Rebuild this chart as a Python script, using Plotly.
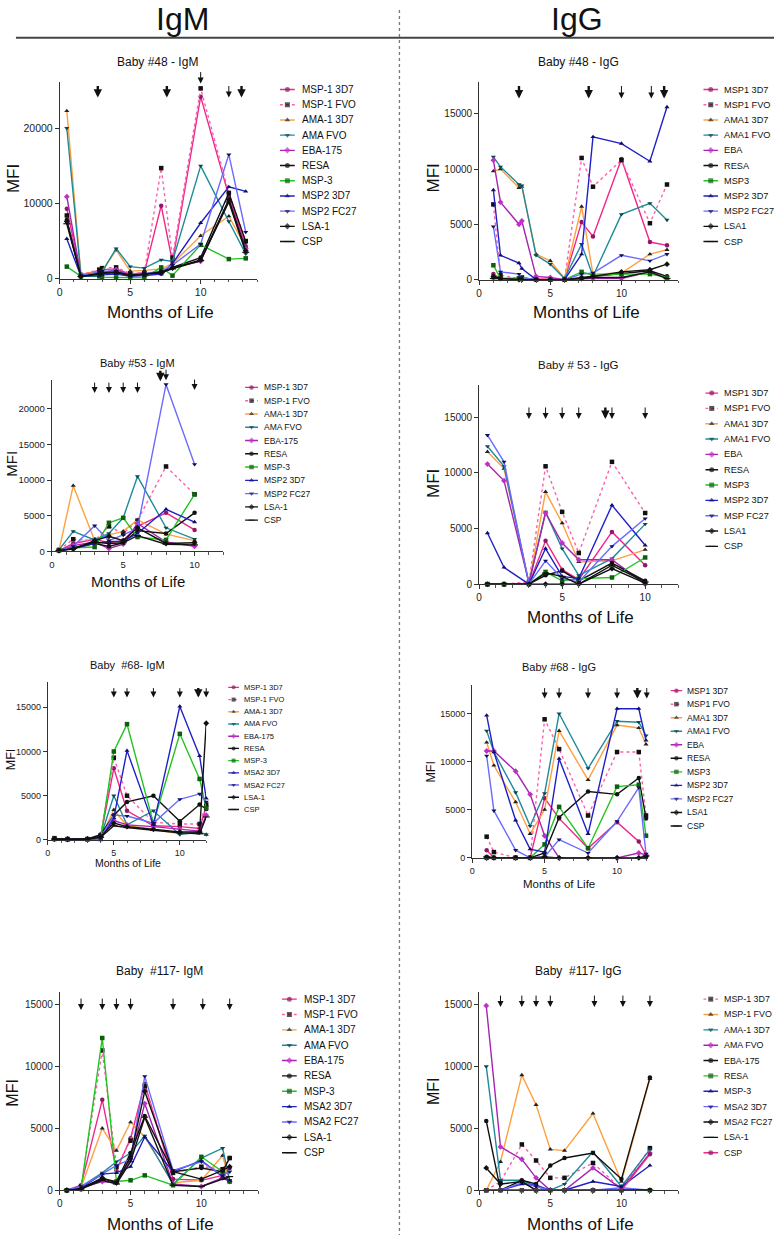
import plotly.graph_objects as go

W, H = 774, 1241
FONT = "Liberation Sans, Arial, Helvetica, sans-serif"

# ---------------- DATA ----------------
NAMES_A = ["MSP-1 3D7", "MSP-1 FVO", "AMA-1 3D7", "AMA FVO", "EBA-175", "RESA",
           "MSP-3", "MSP2 3D7", "MSP2 FC27", "LSA-1", "CSP"]
NAMES_B = ["MSP1 3D7", "MSP1 FVO", "AMA1 3D7", "AMA1 FVO", "EBA", "RESA",
           "MSP3", "MSP2 3D7", "MSP2 FC27", "LSA1", "CSP"]
NAMES_B2 = ["MSP1 3D7", "MSP1 FVO", "AMA1 3D7", "AMA1 FVO", "EBA", "RESA",
            "MSP3", "MSP2 3D7", "MSP FC27", "LSA1", "CSP"]
NAMES_C = ["MSP-1 3D7", "MSP-1 FVO", "AMA-1 3D7", "AMA FVO", "EBA-175", "RESA",
           "MSP-3", "MSA2 3D7", "MSA2 FC27", "LSA-1", "CSP"]

# Baby #48 IgM
B48M_MONTHS = [0.5, 1.5, 2.8, 3, 4, 5, 6, 7.2, 8, 10, 12, 13.2]
B48M_VALUES = [
    [9300, 500, 1100, 1200, 1300, 600, 800, 9700, 2200, 24200, 11000, 4300],
    [8400, 500, 1200, 1400, 1500, 700, 800, 14700, 2800, 25300, 11400, 5000],
    [22300, 600, 900, 1000, 3800, 1000, 1100, 1300, 2000, 5700, 8300, 4200],
    [20000, 500, 800, 900, 4000, 1600, 1400, 2500, 2300, 15000, 7600, 3300],
    [10900, 400, 700, 800, 1200, 400, 600, 700, 1500, 2300, 10500, 4000],
    [7800, 300, 600, 700, 800, 400, 500, 700, 1500, 2800, 11400, 4900],
    [1600, 300, 300, 200, 150, 100, 100, 1500, 400, 4500, 2600, 2700],
    [5300, 300, 400, 500, 600, 300, 400, 600, 2000, 7400, 12200, 11600],
    [7500, 400, 900, 1000, 1000, 500, 700, 1000, 1800, 4600, 16500, 6200],
    [7600, 300, 700, 800, 900, 500, 600, 900, 1400, 2500, 10500, 3700],
    [7300, 300, 600, 700, 800, 400, 600, 800, 1300, 2400, 10200, 3500],
]
B48M_ARROWS = [2.7, 7.6, 10, 12, 12.9]
B48M_THICK = [1, 1, 0, 0, 1]

# Baby #48 IgG
B48G_MONTHS = [1, 1.5, 2.8, 3, 4, 5, 6, 7.2, 8, 10, 12, 13.2]
B48G_VALUES = [
    [500, 100, 100, 100, 50, 50, 0, 5200, 3900, 10900, 3400, 3100],
    [6800, 400, 100, 200, 50, 0, 0, 11000, 8400, 10800, 5100, 8600],
    [9800, 10000, 8300, 8400, 2300, 1700, 100, 6600, 500, 600, 2300, 2700],
    [11100, 10200, 8600, 8500, 2200, 1400, 100, 3200, 300, 5900, 6900, 5400],
    [10800, 7000, 5000, 5300, 300, 200, 0, 100, 100, 100, 700, 100],
    [200, 100, 50, 100, 0, 0, 0, 200, 300, 500, 800, 300],
    [1300, 100, 100, 100, 0, 0, 0, 700, 400, 500, 500, 200],
    [8100, 2200, 1500, 1000, 0, 0, 0, 2300, 12900, 12300, 10700, 15600],
    [4800, 700, 500, 200, 0, 0, 0, 500, 600, 2200, 1700, 2300],
    [300, 100, 0, 0, 0, 0, 0, 100, 300, 700, 900, 1400],
    [100, 100, 0, 0, 0, 0, 0, 100, 200, 200, 700, 100],
]
B48G_ARROWS = [2.8, 7.7, 10, 12.1, 13.0]
B48G_THICK = [1, 1, 0, 0, 1]

# Baby #53 IgM
B53M_MONTHS = [0.5, 1.5, 3, 4, 5, 6, 8, 10]
B53M_VALUES = [
    [100, 1100, 1700, 1200, 1500, 3500, 5400, 3000],
    [200, 1700, 1500, 3500, 2500, 4300, 11900, 8000],
    [100, 9200, 1500, 2300, 2800, 4400, 2400, 1500],
    [200, 2800, 1600, 2500, 4700, 10500, 3300, 1700],
    [100, 800, 1300, 400, 1000, 3900, 1300, 700],
    [200, 500, 1100, 700, 1200, 2900, 2500, 5400],
    [100, 500, 600, 4000, 4700, 2000, 1600, 8000],
    [100, 400, 1100, 1400, 1400, 2500, 5900, 4100],
    [100, 700, 3600, 1500, 2300, 3200, 23400, 12200],
    [100, 300, 1500, 2100, 1500, 3300, 1100, 1200],
    [100, 400, 1300, 1100, 1200, 2200, 1000, 900],
]
B53M_ARROWS = [3, 4, 5, 6, 7.6, 8, 10]
B53M_THICK = [0, 0, 0, 0, 1, 0, 0]

# Baby #53 IgG
B53G_MONTHS = [0.5, 1.5, 3, 4, 5, 6, 8, 10]
B53G_VALUES = [
    [0, 0, 0, 3900, 1300, 400, 4700, 1700],
    [0, 0, 200, 10600, 6500, 2800, 11000, 6400],
    [11900, 10400, 100, 8300, 5500, 2000, 2100, 3100],
    [12400, 10600, 100, 6500, 3200, 800, 2300, 5400],
    [10800, 9300, 100, 6400, 3700, 2200, 2200, 0],
    [0, 0, 0, 800, 1200, 300, 1900, 300],
    [0, 0, 0, 1100, 300, 500, 600, 2400],
    [4600, 1500, 0, 3200, 700, 500, 7100, 3500],
    [13400, 11000, 0, 2100, 500, 200, 3400, 5900],
    [0, 0, 0, 0, 0, 0, 1400, 100],
    [0, 0, 0, 1000, 700, 0, 1700, 200],
]
B53G_ARROWS = [3, 4, 5, 6, 7.6, 8, 10]
B53G_THICK = [0, 0, 0, 0, 1, 0, 0]

# Baby #68 IgM
B68M_MONTHS = [0.5, 1.5, 3, 4, 5, 6, 8, 10, 11.5, 12]
B68M_VALUES = [
    [150, 100, 100, 400, 8100, 3300, 1600, 1500, 1300, 3800],
    [200, 100, 100, 500, 9300, 5000, 2000, 1800, 1800, 4000],
    [100, 100, 100, 300, 3400, 1600, 1200, 700, 800, 600],
    [100, 100, 100, 300, 5000, 1700, 3300, 600, 900, 600],
    [100, 50, 100, 400, 2200, 1700, 1500, 1200, 1000, 2800],
    [150, 100, 100, 600, 2800, 4300, 5000, 2100, 4000, 3500],
    [100, 50, 50, 100, 10000, 13100, 1900, 12000, 6900, 3600],
    [100, 50, 50, 200, 2500, 10100, 1700, 15100, 9500, 4700],
    [100, 50, 50, 300, 2800, 2700, 1900, 4600, 5200, 4300],
    [100, 100, 100, 400, 1900, 1500, 1200, 900, 900, 13200],
    [100, 50, 100, 300, 1600, 1400, 1100, 800, 700, 2600],
]
B68M_ARROWS = [5, 6, 8, 10, 11.4, 12]
B68M_THICK = [0, 0, 0, 0, 1, 0]

# Baby #68 IgG
B68G_MONTHS = [1, 1.5, 3, 4, 5, 6, 8, 10, 11.5, 12]
B68G_VALUES = [
    [800, 0, 0, 0, 6200, 4100, 1000, 3700, 1700, 300],
    [2200, 600, 0, 0, 14400, 11300, 4400, 11000, 11000, 4400],
    [12000, 9600, 5800, 2500, 5000, 13200, 8100, 13800, 13500, 11800],
    [13200, 11000, 6800, 3300, 6700, 15000, 9300, 14200, 14100, 12700],
    [11100, 11100, 9000, 6600, 2300, 0, 0, 0, 500, 300],
    [100, 0, 0, 0, 500, 4200, 6900, 6600, 8300, 4100],
    [0, 0, 0, 0, 1400, 5300, 1000, 7400, 7600, 2300],
    [14800, 11000, 3900, 900, 600, 10300, 2500, 15500, 15500, 12200],
    [10600, 4900, 800, 0, 100, 1900, 500, 3800, 7300, 400],
    [0, 0, 0, 0, 100, 0, 0, 0, 0, 100],
    [100, 0, 0, 0, 0, 0, 0, 0, 0, 200],
]
B68G_ARROWS = [5, 6, 8, 10, 11.4, 12.05]
B68G_THICK = [0, 0, 0, 0, 1, 0]

# Baby #117 IgM
B117M_MONTHS = [0.5, 1.5, 3, 4, 5, 6, 8, 10, 11.5, 12]
B117M_VALUES = [
    [0, 400, 7300, 1600, 4200, 8600, 900, 800, 1200, 1800],
    [0, 300, 11300, 1900, 4000, 8400, 1400, 1900, 1700, 2600],
    [0, 200, 5000, 3200, 5500, 4300, 600, 800, 2800, 700],
    [0, 300, 1400, 2300, 3000, 4400, 500, 2600, 3400, 800],
    [0, 200, 700, 600, 2500, 7000, 500, 300, 1000, 700],
    [0, 200, 900, 700, 3000, 6000, 1500, 1800, 1500, 2600],
    [0, 100, 12300, 700, 800, 1200, 400, 2700, 1500, 700],
    [0, 200, 1300, 1400, 1900, 4300, 1500, 2400, 1100, 800],
    [0, 300, 1300, 2000, 2500, 9200, 1600, 2300, 1200, 1500],
    [0, 100, 1000, 600, 2700, 8000, 1500, 900, 1600, 1900],
    [0, 100, 800, 500, 2300, 5900, 400, 300, 900, 1100],
]
B117M_ARROWS = [1.5, 3, 4, 5, 8, 10.1, 12]
B117M_THICK = [0, 0, 0, 0, 0, 0, 0]

# Baby #117 IgG
B117G_MONTHS = [0.5, 1.5, 3, 4, 5, 6, 8, 10, 12]
B117G_VALUES = [
    [0, 700, 3700, 2400, 1000, 1000, 2200, 100, 3400],
    [0, 2300, 9300, 6900, 3300, 3200, 6200, 700, 9000],
    [10000, 800, 800, 300, 0, 500, 3100, 300, 3300],
    [14900, 3500, 2500, 1000, 0, 0, 1800, 100, 3000],
    [5600, 0, 800, 500, 2000, 2600, 3000, 900, 9100],
    [0, 0, 0, 0, 0, 0, 0, 0, 0],
    [0, 0, 500, 400, 0, 0, 700, 300, 2000],
    [0, 0, 600, 300, 0, 0, 0, 200, 0],
    [1800, 500, 700, 0, 0, 0, 0, 0, 0],
    [0, 0, 0, 0, 0, 0, 0, 0, 0],
    [0, 0, 0, 0, 0, 0, 0, 0, 2900],
]
B117G_ARROWS = [1.5, 3, 4, 5, 8.1, 10.1, 12]
B117G_THICK = [0, 0, 0, 0, 0, 0, 0]

# ---------------- STYLES ----------------
# (line colour, dash, marker symbol, marker colour)
STYLES = [
    ("#F0278A", "solid", "circle", "#8B1A6B"),
    ("#FF5FAF", "dot", "square", "#111111"),
    ("#FFA040", "solid", "triangle-up", "#222222"),
    ("#1F8A99", "solid", "triangle-down", "#0F4750"),
    ("#A524B0", "solid", "diamond", "#C030C8"),
    ("#111111", "solid", "circle", "#111111"),
    ("#22C322", "solid", "square", "#0F5F0F"),
    ("#2020C8", "solid", "triangle-up", "#101060"),
    ("#6B6BFF", "solid", "triangle-down", "#101060"),
    ("#111111", "solid", "diamond", "#111111"),
    ("#111111", "solid", "line-ew", "#111111"),
]
STYLES_SHIFT = STYLES[1:] + STYLES[:1]

# ---------------- PANEL LAYOUT (pixels) ----------------
PANELS = [
    dict(title="Baby #48 - IgM", months=B48M_MONTHS, values=B48M_VALUES, names=NAMES_A, styles=STYLES,
         arrows=B48M_ARROWS, thick=B48M_THICK,
         arrow_tip=[98, 98, 84, 98, 98], arrow_len=13,
         dom_x=(57, 255), dom_y=(82, 280), xr=14, yr=26200, ydt=10000, tickf=10.5,
         title_xy=(155, 62), title_f=12,
         ytitle_xy=(10, 179), ytitle_f=17, xtitle_xy=(158, 314), xtitle_f=17,
         leg=(278, 15, 298, 90, 15.27, 10, 5)),
    dict(title="Baby #48 - IgG", months=B48G_MONTHS, values=B48G_VALUES, names=NAMES_B, styles=STYLES,
         arrows=B48G_ARROWS, thick=B48G_THICK,
         arrow_tip=[99] * 5, arrow_len=14,
         dom_x=(478, 678), dom_y=(82, 281), xr=14, yr=17900, ydt=5000, tickf=10,
         title_xy=(578, 62), title_f=12,
         ytitle_xy=(432, 179), ytitle_f=17, xtitle_xy=(586, 314), xtitle_f=17,
         leg=(703, 15, 722, 90, 15.27, 9.2, 5)),
    dict(title="Baby #53 - IgM", months=B53M_MONTHS, values=B53M_VALUES, names=NAMES_A, styles=STYLES,
         arrows=B53M_ARROWS, thick=B53M_THICK,
         arrow_tip=[395, 395, 395, 395, 383, 382, 392], arrow_len=12,
         dom_x=(49, 221), dom_y=(382, 554), xr=12, yr=24000, ydt=5000, tickf=9.5,
         title_xy=(135, 365), title_f=11,
         ytitle_xy=(9, 466), ytitle_f=15, xtitle_xy=(136, 584), xtitle_f=15,
         leg=(243, 13, 260, 389.3, 13.34, 8.5, 4.5)),
    dict(title="Baby # 53 - IgG", months=B53G_MONTHS, values=B53G_VALUES, names=NAMES_B2, styles=STYLES,
         arrows=B53G_ARROWS, thick=B53G_THICK,
         arrow_tip=[421] * 7, arrow_len=13,
         dom_x=(478, 678), dom_y=(387, 587), xr=12, yr=17900, ydt=5000, tickf=10,
         title_xy=(578, 367), title_f=11.5,
         ytitle_xy=(432, 486), ytitle_f=17, xtitle_xy=(580, 620), xtitle_f=17,
         leg=(705, 13, 722, 395, 15.4, 9.2, 5)),
    dict(title="Baby\u00a0 #68- IgM", months=B68M_MONTHS, values=B68M_VALUES, names=NAMES_C, styles=STYLES,
         arrows=B68M_ARROWS, thick=B68M_THICK,
         arrow_tip=[701] * 6, arrow_len=11,
         dom_x=(45, 204), dom_y=(685, 844), xr=12, yr=17900, ydt=5000, tickf=9,
         title_xy=(125, 668), title_f=11,
         ytitle_xy=(8, 763), ytitle_f=12.5, xtitle_xy=(125, 867), xtitle_f=10.5,
         leg=(226, 11, 240, 690.7, 12.27, 7.5, 4)),
    dict(title="Baby #68 - IgG", months=B68G_MONTHS, values=B68G_VALUES, names=NAMES_B, styles=STYLES,
         arrows=B68G_ARROWS, thick=B68G_THICK,
         arrow_tip=[702] * 6, arrow_len=12,
         dom_x=(471, 648), dom_y=(688, 862), xr=12.17, yr=18000, ydt=5000, tickf=9,
         title_xy=(558, 670), title_f=11,
         ytitle_xy=(430, 775), ytitle_f=12.5, xtitle_xy=(558, 888), xtitle_f=11.5,
         leg=(670, 12, 685, 694, 13.6, 8.5, 4.5)),
    dict(title="Baby\u00a0 #117- IgM", months=B117M_MONTHS, values=B117M_VALUES, names=NAMES_C, styles=STYLES,
         arrows=B117M_ARROWS, thick=B117M_THICK,
         arrow_tip=[1015] * 7, arrow_len=13,
         dom_x=(57, 256), dom_y=(997, 1196), xr=14, yr=16000, ydt=5000, tickf=10,
         title_xy=(157, 976), title_f=12,
         ytitle_xy=(10, 1098), ytitle_f=16, xtitle_xy=(158, 1230), xtitle_f=17,
         leg=(280, 15, 300, 1004, 15.43, 10, 5)),
    dict(title="Baby\u00a0 #117- IgG", months=B117G_MONTHS, values=B117G_VALUES, names=NAMES_C, styles=STYLES_SHIFT,
         arrows=B117G_ARROWS, thick=B117G_THICK,
         arrow_tip=[1012] * 7, arrow_len=13,
         dom_x=(478, 678), dom_y=(997, 1196), xr=14, yr=16000, ydt=5000, tickf=10,
         title_xy=(578, 976), title_f=12,
         ytitle_xy=(432, 1096), ytitle_f=16, xtitle_xy=(580, 1230), xtitle_f=17,
         leg=(703, 15, 722, 1004, 15.43, 8.9, 5)),
]


def px(x):
    return x / W


def py(y):
    return 1 - y / H


fig = go.Figure()
annotations = []
shapes = []
layout_axes = {}

for k, p in enumerate(PANELS, start=1):
    xa = "x" if k == 1 else f"x{k}"
    ya = "y" if k == 1 else f"y{k}"
    xname = "xaxis" if k == 1 else f"xaxis{k}"
    yname = "yaxis" if k == 1 else f"yaxis{k}"
    (x0, x1), (y0, y1) = p["dom_x"], p["dom_y"]
    tickfont = dict(family=FONT, size=p["tickf"], color="#222")
    layout_axes[xname] = dict(
        domain=[px(x0), px(x1)], range=[0, p["xr"]], anchor=ya,
        showline=True, linecolor="#333", linewidth=1, ticks="outside", ticklen=4,
        tickcolor="#333", tickfont=tickfont, tick0=0, dtick=5, showgrid=False,
        zeroline=False, fixedrange=True, tickformat="d",
        minor=dict(ticks="outside", ticklen=2.5, dtick=1, tickcolor="#555", showgrid=False),
    )
    layout_axes[yname] = dict(
        domain=[py(y1), py(y0)], range=[0, p["yr"]], anchor=xa,
        showline=True, linecolor="#333", linewidth=1, ticks="outside", ticklen=4,
        tickcolor="#333", tickfont=tickfont, tick0=0, dtick=p["ydt"], showgrid=False,
        zeroline=False, fixedrange=True, tickformat="d",
    )

    for name, vals, st in zip(p["names"], p["values"], p["styles"]):
        lc, dash, sym, mc = st
        fig.add_trace(go.Scatter(
            x=p["months"], y=vals, xaxis=xa, yaxis=ya, name=name,
            mode="lines+markers", cliponaxis=False,
            line=dict(color=lc, width=1.4, dash=dash),
            marker=dict(symbol=sym, size=4.5 if sym != "line-ew" else 5, color=mc,
                        line=dict(width=1.2 if sym == "line-ew" else 0, color=mc)),
            showlegend=False, hoverinfo="skip",
        ))

    # arrows (infection events)
    for m, thick, tip in zip(p["arrows"], p["thick"], p["arrow_tip"]):
        annotations.append(dict(
            x=m, xref=xa, y=py(tip), yref="paper", ax=0, ay=-p["arrow_len"],
            axref="pixel", ayref="pixel", text="", showarrow=True,
            arrowhead=2, arrowsize=0.7 if thick else 1.2,
            arrowwidth=2.4 if thick else 1.0, arrowcolor="#111",
        ))

    # titles
    tx, ty = p["title_xy"]
    annotations.append(dict(x=px(tx), y=py(ty), xref="paper", yref="paper", text=p["title"],
                            showarrow=False, xanchor="center", yanchor="middle",
                            font=dict(family=FONT, size=p["title_f"], color="#111")))
    tx, ty = p["ytitle_xy"]
    annotations.append(dict(x=px(tx), y=py(ty), xref="paper", yref="paper", text="MFI",
                            showarrow=False, xanchor="center", yanchor="middle", textangle=-90,
                            font=dict(family=FONT, size=p["ytitle_f"], color="#111")))
    tx, ty = p["xtitle_xy"]
    annotations.append(dict(x=px(tx), y=py(ty), xref="paper", yref="paper", text="Months of Life",
                            showarrow=False, xanchor="center", yanchor="middle",
                            font=dict(family=FONT, size=p["xtitle_f"], color="#111")))

    # custom legend on its own hidden axes
    lx0, llen, ltx, row0, sp, lfont, msize = p["leg"]
    n = len(p["names"])
    lk = k + 8
    lxa, lya = f"x{lk}", f"y{lk}"
    layout_axes[f"xaxis{lk}"] = dict(domain=[px(lx0), px(lx0 + llen)], range=[0, llen],
                                     visible=False, fixedrange=True, anchor=lya)
    layout_axes[f"yaxis{lk}"] = dict(domain=[py(row0 + (n - 0.5) * sp), py(row0 - 0.5 * sp)],
                                     range=[n - 0.5, -0.5], visible=False, fixedrange=True, anchor=lxa)
    for i, (name, st) in enumerate(zip(p["names"], p["styles"])):
        lc, dash, sym, mc = st
        fig.add_trace(go.Scatter(
            x=[0, llen / 2, llen], y=[i, i, i], xaxis=lxa, yaxis=lya,
            mode="lines+markers", cliponaxis=False,
            line=dict(color=lc, width=1.4, dash=dash),
            marker=dict(symbol=sym, size=[0, msize, 0], color=mc,
                        line=dict(width=1.2 if sym == "line-ew" else 0, color=mc)),
            showlegend=False, hoverinfo="skip",
        ))
        annotations.append(dict(x=px(ltx), y=i, xref="paper", yref=lya, text=name,
                                showarrow=False, xanchor="left", yanchor="middle",
                                font=dict(family=FONT, size=lfont, color="#111")))

# header
for label, hx in (("IgM", 180), ("IgG", 576)):
    annotations.append(dict(x=px(hx), y=py(19), xref="paper", yref="paper", text=label,
                            showarrow=False, xanchor="center", yanchor="middle", borderpad=0,
                            font=dict(family=FONT, size=32, color="#111")))
shapes.append(dict(type="line", xref="paper", yref="paper", x0=px(13), x1=1, y0=py(38), y1=py(38),
                   line=dict(color="#444", width=2)))
shapes.append(dict(type="line", xref="paper", yref="paper", x0=px(398), x1=px(398), y0=py(10), y1=0,
                   line=dict(color="#777", width=1.3, dash="dot")))

fig.update_layout(
    width=W, height=H, margin=dict(l=0, r=0, t=0, b=0),
    paper_bgcolor="white", plot_bgcolor="white", showlegend=False,
    annotations=annotations, shapes=shapes, **layout_axes,
)

fig.write_html(
    "out.html",
    config={"displayModeBar": False, "staticPlot": True},
    post_script="document.body.style.margin='0';document.body.style.overflow='hidden';"
                "document.documentElement.style.overflow='hidden';",
)
